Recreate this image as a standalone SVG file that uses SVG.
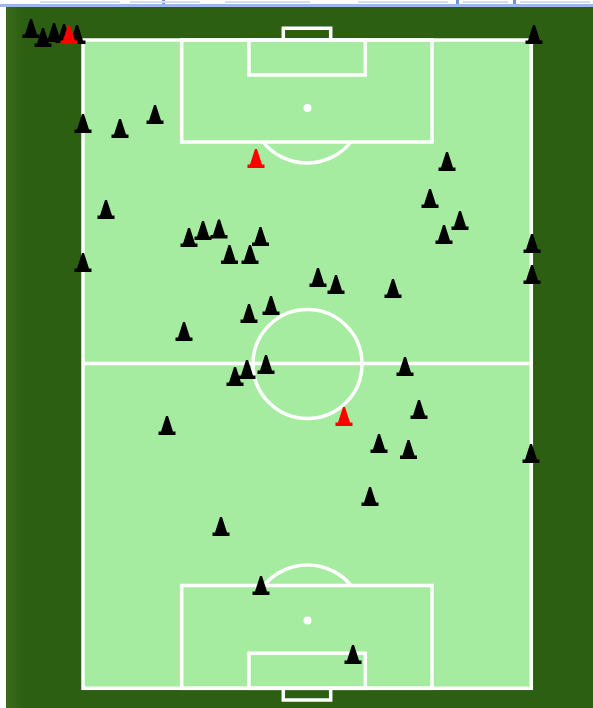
<svg xmlns="http://www.w3.org/2000/svg" width="593" height="708" viewBox="0 0 593 708">
<style>
.l{fill:none;stroke:#fff;stroke-width:3.500}
.s{fill:#fff}
.k{fill:#000}
.r{fill:#f00}
.b{fill:#6f96d2}
.b2{fill:#cfdcf1}
</style>
<defs>
<linearGradient id="g" x1="0" x2="1" y1="0" y2="0"><stop offset="0" stop-color="#3a6b1c"/><stop offset="1" stop-color="#2d5f12"/></linearGradient>
<path id="c" d="M-1-19H1L6-3.500H8.500V0H-8.500V-3.500H-6Z"/>
</defs>
<rect width="593" height="708" fill="#fff"/>
<rect x="0" y="4" width="593" height="3" fill="#9db8e2"/>
<rect class="b" x="162" y="0" width="3" height="4"/>
<rect class="b" x="456" y="0" width="3" height="4"/>
<rect class="b" x="513" y="0" width="3" height="4"/>
<rect class="b2" x="40" y="1" width="80" height="2"/>
<rect class="b2" x="130" y="1" width="70" height="2"/>
<rect class="b2" x="225" y="1" width="85" height="2"/>
<rect class="b2" x="358" y="1" width="90" height="2"/>
<rect class="b2" x="463" y="1" width="45" height="2"/>
<rect class="b2" x="520" y="1" width="70" height="2"/>
<rect x="6" y="7" width="587" height="701" fill="#2d5f12"/>
<rect x="6" y="7" width="18" height="701" fill="url(#g)"/>
<g id="pitch">
<rect x="83" y="40" width="448.300" height="648.300" fill="#a6eca0"/>
<rect class="l" x="83" y="40" width="448.300" height="648.300"/>
<path class="l" d="M83 363.500H531"/>
<circle class="l" cx="307.500" cy="364" r="54.500"/>
<rect class="l" x="181.700" y="40" width="250.300" height="102"/>
<rect class="l" x="249" y="40" width="116.300" height="35"/>
<path class="l" d="M283.300 40V28.300H330.700V40"/>
<circle class="s" cx="307.500" cy="108" r="4"/>
<path class="l" d="M263 142A56.600 56.600 0 0 0 351 142"/>
<rect class="l" x="181.700" y="585.500" width="250.300" height="102.800"/>
<rect class="l" x="249" y="653.300" width="116.300" height="35"/>
<path class="l" d="M283.300 688.300V700H330.700V688.300"/>
<circle class="s" cx="307.500" cy="620.500" r="4"/>
<path class="l" d="M264 585.500A56.400 56.400 0 0 1 351 585.500"/>
</g>
<g id="cones">
<use href="#c" class="k" x="31" y="38"/>
<use href="#c" class="k" x="43" y="47"/>
<use href="#c" class="k" x="54" y="42"/>
<use href="#c" class="k" x="64" y="43"/>
<use href="#c" class="k" x="77" y="44"/>
<use href="#c" class="r" x="69" y="44"/>
<use href="#c" class="k" x="534" y="44"/>
<use href="#c" class="k" x="83" y="133"/>
<use href="#c" class="k" x="120" y="138"/>
<use href="#c" class="k" x="155" y="124"/>
<use href="#c" class="r" x="256" y="168"/>
<use href="#c" class="k" x="447" y="171"/>
<use href="#c" class="k" x="430" y="208"/>
<use href="#c" class="k" x="460" y="230"/>
<use href="#c" class="k" x="444" y="244"/>
<use href="#c" class="k" x="106" y="219"/>
<use href="#c" class="k" x="189" y="247"/>
<use href="#c" class="k" x="203" y="240"/>
<use href="#c" class="k" x="219" y="238.500"/>
<use href="#c" class="k" x="260.500" y="246"/>
<use href="#c" class="k" x="229.500" y="264"/>
<use href="#c" class="k" x="250" y="264"/>
<use href="#c" class="k" x="83" y="272"/>
<use href="#c" class="k" x="532" y="253"/>
<use href="#c" class="k" x="532" y="284"/>
<use href="#c" class="k" x="318" y="287"/>
<use href="#c" class="k" x="336" y="294"/>
<use href="#c" class="k" x="393" y="298"/>
<use href="#c" class="k" x="249" y="323"/>
<use href="#c" class="k" x="271" y="315"/>
<use href="#c" class="k" x="184" y="341"/>
<use href="#c" class="k" x="266" y="374"/>
<use href="#c" class="k" x="247" y="379"/>
<use href="#c" class="k" x="235" y="386"/>
<use href="#c" class="k" x="405" y="376"/>
<use href="#c" class="r" x="344" y="426"/>
<use href="#c" class="k" x="419" y="419"/>
<use href="#c" class="k" x="379" y="453"/>
<use href="#c" class="k" x="408.500" y="459"/>
<use href="#c" class="k" x="531" y="463"/>
<use href="#c" class="k" x="167" y="435"/>
<use href="#c" class="k" x="370" y="506"/>
<use href="#c" class="k" x="221" y="536"/>
<use href="#c" class="k" x="261" y="595"/>
<use href="#c" class="k" x="353" y="664"/>
</g>
</svg>
